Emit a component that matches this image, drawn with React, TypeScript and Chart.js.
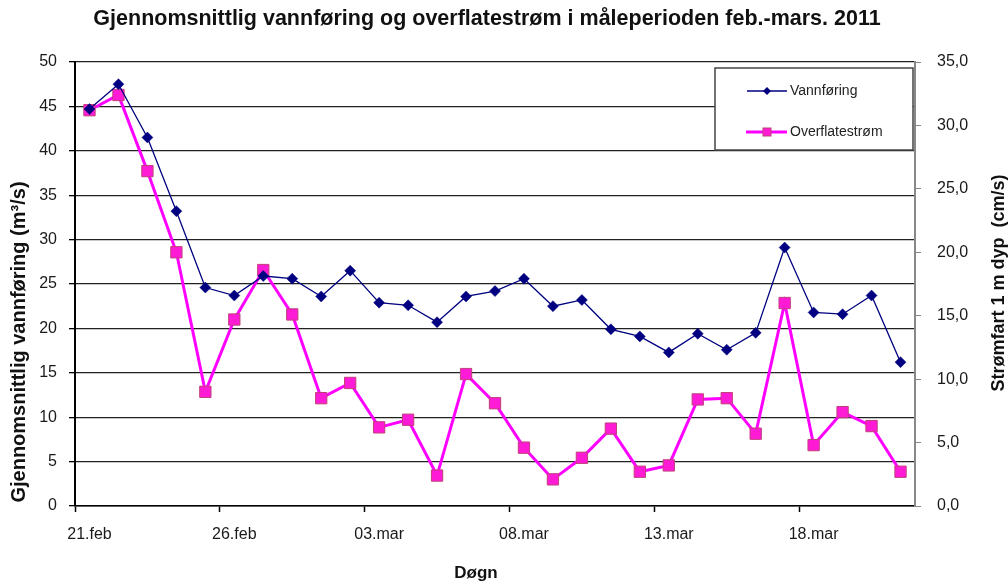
import React, { useEffect, useRef } from "react";
import { Chart, registerables } from "chart.js";

Chart.register(...registerables);

const days: string[] = [
  "21.feb", "22.feb", "23.feb", "24.feb", "25.feb", "26.feb", "27.feb", "28.feb",
  "01.mar", "02.mar", "03.mar", "04.mar", "05.mar", "06.mar", "07.mar", "08.mar",
  "09.mar", "10.mar", "11.mar", "12.mar", "13.mar", "14.mar", "15.mar", "16.mar",
  "17.mar", "18.mar", "19.mar", "20.mar", "21.mar",
];

const vannforing: number[] = [
  44.7, 47.5, 41.5, 33.2, 24.6, 23.7, 25.9, 25.6, 23.6, 26.5, 22.9, 22.6, 20.7, 23.6, 24.2,
  25.6, 22.5, 23.2, 19.9, 19.1, 17.3, 19.4, 17.6, 19.5, 29.1, 21.8, 21.6, 23.7, 16.2,
];

const overflatestrom: number[] = [
  31.2, 32.4, 26.4, 20.0, 9.0, 14.7, 18.6, 15.1, 8.5, 9.7, 6.2, 6.8, 2.4, 10.4, 8.1,
  4.6, 2.1, 3.8, 6.1, 2.7, 3.2, 8.4, 8.5, 5.7, 16.0, 4.8, 7.4, 6.3, 2.7,
];

const leftTicks: number[] = [0, 5, 10, 15, 20, 25, 30, 35, 40, 45, 50];
const rightTicks: number[] = [0, 5, 10, 15, 20, 25, 30, 35];

const FONT = "'Liberation Sans', Arial, Helvetica, sans-serif";
const NAVY = "#000080";
const MAGENTA = "#ff00ff";
const MAG_POINT = "#ff1ad6";
const MAG_BORDER = "#c0407a";

const textPlugin = {
  id: "textAndLegend",
  afterDraw(chart: any) {
    const ctx = chart.ctx as CanvasRenderingContext2D;
    ctx.save();
    ctx.fillStyle = "#111";
    ctx.textAlign = "center";
    ctx.textBaseline = "middle";
    // title
    ctx.font = `bold 21.5px ${FONT}`;
    ctx.fillText("Gjennomsnittlig vannføring og overflatestrøm i måleperioden feb.-mars. 2011", 487, 19);
    // x title
    ctx.font = `bold 17px ${FONT}`;
    ctx.fillText("Døgn", 476, 573);
    // left title
    ctx.save();
    ctx.translate(19, 342);
    ctx.rotate(-Math.PI / 2);
    ctx.font = `bold 20px ${FONT}`;
    ctx.fillText("Gjennomsnittlig vannføring (m³/s)", 0, 0);
    ctx.restore();
    // right title
    ctx.save();
    ctx.translate(999, 283);
    ctx.rotate(-Math.PI / 2);
    ctx.font = `bold 18px ${FONT}`;
    ctx.fillText("Strømfart 1 m dyp  (cm/s)", 0, 0);
    ctx.restore();

    // legend box
    ctx.fillStyle = "#ffffff";
    ctx.fillRect(715, 68, 198, 82);
    ctx.strokeStyle = "#444";
    ctx.lineWidth = 1.5;
    ctx.strokeRect(715, 68, 198, 82);

    // entry 1
    const y1 = 91;
    ctx.strokeStyle = NAVY;
    ctx.lineWidth = 1.5;
    ctx.beginPath();
    ctx.moveTo(747, y1);
    ctx.lineTo(787, y1);
    ctx.stroke();
    ctx.fillStyle = NAVY;
    ctx.beginPath();
    ctx.moveTo(767, y1 - 4);
    ctx.lineTo(771, y1);
    ctx.lineTo(767, y1 + 4);
    ctx.lineTo(763, y1);
    ctx.closePath();
    ctx.fill();
    ctx.fillStyle = "#222";
    ctx.textAlign = "left";
    ctx.font = `14px ${FONT}`;
    ctx.fillText("Vannføring", 790, y1);

    // entry 2
    const y2 = 132;
    ctx.strokeStyle = MAGENTA;
    ctx.lineWidth = 3;
    ctx.beginPath();
    ctx.moveTo(746, y2);
    ctx.lineTo(787, y2);
    ctx.stroke();
    ctx.fillStyle = MAG_POINT;
    ctx.fillRect(763, y2 - 4, 8, 8);
    ctx.strokeStyle = MAG_BORDER;
    ctx.lineWidth = 1;
    ctx.strokeRect(763, y2 - 4, 8, 8);
    ctx.fillStyle = "#222";
    ctx.fillText("Overflatestrøm", 790, y2);
    ctx.restore();
  },
};

export default function App() {
  const ref = useRef<HTMLCanvasElement | null>(null);

  useEffect(() => {
    if (!ref.current) return;
    const chart = new Chart(ref.current, {
      type: "line",
      data: {
        labels: days,
        datasets: [
          {
            label: "Vannføring",
            data: vannforing,
            yAxisID: "y",
            borderColor: NAVY,
            backgroundColor: NAVY,
            borderWidth: 1.3,
            pointStyle: "rectRot",
            pointRadius: 5.5,
            pointBackgroundColor: NAVY,
            pointBorderColor: NAVY,
            pointBorderWidth: 0.5,
            tension: 0,
          },
          {
            label: "Overflatestrøm",
            data: overflatestrom,
            yAxisID: "y1",
            borderColor: MAGENTA,
            backgroundColor: MAG_POINT,
            borderWidth: 3,
            pointStyle: "rect",
            pointRadius: 8,
            pointBackgroundColor: MAG_POINT,
            pointBorderColor: MAG_BORDER,
            pointBorderWidth: 1,
            tension: 0,
          },
        ],
      },
      options: {
        animation: false,
        responsive: false,
        maintainAspectRatio: false,
        layout: { padding: { top: 62, left: 0, right: 0, bottom: 0 } },
        plugins: {
          legend: { display: false },
          title: { display: false },
          tooltip: { enabled: false },
        },
        scales: {
          x: {
            type: "category",
            offset: true,
            afterFit(scale: any) {
              scale.height = 77;
            },
            grid: {
              offset: true,
              drawOnChartArea: false,
              drawTicks: true,
              tickLength: 6,
              tickWidth: 1.5,
              tickColor: (c: any) => (c.index % 5 === 0 ? "#000" : "rgba(0,0,0,0)"),
            },
            border: { display: true, color: "#000", width: 1.5 },
            ticks: {
              autoSkip: false,
              maxRotation: 0,
              minRotation: 0,
              padding: 13,
              color: "#1a1a1a",
              font: { family: FONT, size: 16 },
              callback: (_v: any, i: number) => (i % 5 === 0 ? days[i] : ""),
            },
          },
          y: {
            type: "linear",
            position: "left",
            min: 0,
            max: 50,
            afterFit(scale: any) {
              scale.width = 75;
            },
            afterBuildTicks(scale: any) {
              scale.ticks = leftTicks.map((v) => ({ value: v }));
            },
            grid: {
              color: "#222",
              lineWidth: 1.3,
              drawTicks: true,
              tickLength: 6,
              tickColor: "#000",
            },
            border: { display: true, color: "#000", width: 2 },
            ticks: {
              padding: 12,
              color: "#1a1a1a",
              font: { family: FONT, size: 16 },
            },
          },
          y1: {
            type: "linear",
            position: "right",
            min: 0,
            max: 35,
            afterFit(scale: any) {
              scale.width = 93;
            },
            afterBuildTicks(scale: any) {
              scale.ticks = rightTicks.map((v) => ({ value: v }));
            },
            grid: {
              drawOnChartArea: false,
              drawTicks: true,
              tickLength: 6,
              tickColor: "#888",
            },
            border: { display: true, color: "#888", width: 2 },
            ticks: {
              padding: 16,
              color: "#1a1a1a",
              font: { family: FONT, size: 16 },
              callback: (v: any) => Number(v).toFixed(1).replace(".", ","),
            },
          },
        },
      },
      plugins: [textPlugin],
    });
    return () => chart.destroy();
  }, []);

  return (
    <div style={{ position: "absolute", left: 0, top: 0, width: 1008, height: 583, background: "#fff" }}>
      <canvas ref={ref} width={1008} height={583} style={{ width: 1008, height: 583 }} />
    </div>
  );
}
